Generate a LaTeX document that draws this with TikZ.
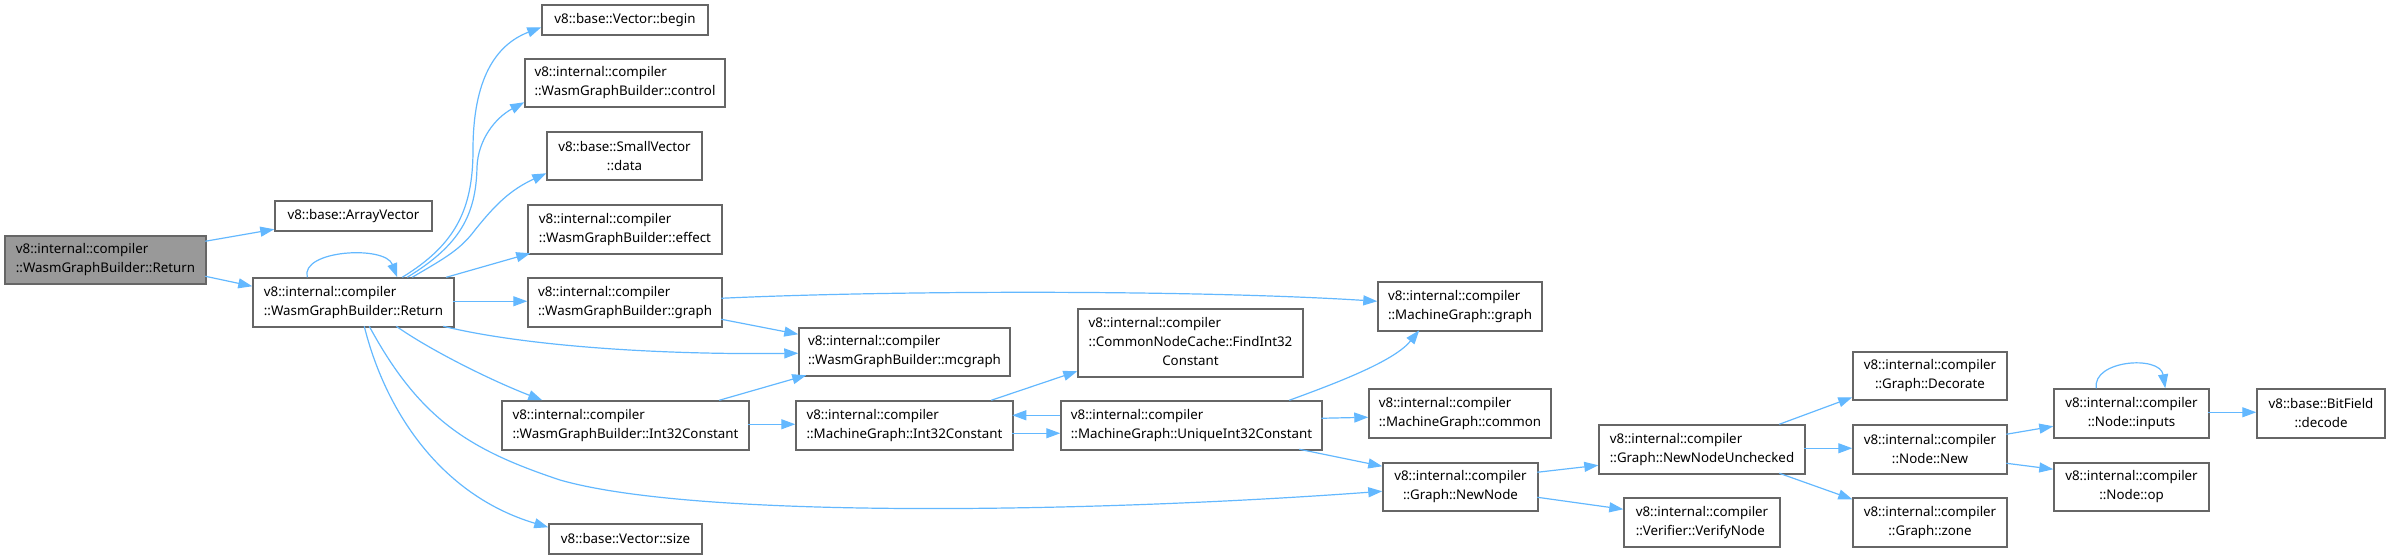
\documentclass[tikz,border=0pt]{standalone}
\usepackage{fontspec}
\setmainfont{Noto Sans}
\usetikzlibrary{arrows.meta}
\definecolor{edgecol}{HTML}{63B8FF}
\definecolor{boxline}{HTML}{666666}
\definecolor{rootfill}{HTML}{999999}
\begin{document}
\begin{tikzpicture}[x=0.75pt,y=-0.75pt,
  bx/.style={draw=boxline,line width=1.1pt,fill=white,inner sep=0pt,font=\fontsize{10}{14.25}\selectfont,text=black},
  wh/.style 2 args={minimum width=#1*0.75pt,minimum height=#2*0.75pt},
  rootbox/.style={bx,fill=rootfill},
  e/.style={draw=edgecol,line width=0.9pt,-{Triangle[length=10.5pt,width=7.5pt,fill=edgecol]}}]
\useasboundingbox (0,0) rectangle (2390,559);
% nodes
\node[rootbox,wh={201}{48},align=left] (root) at (105.5,260) {v8::internal::compiler\\::WasmGraphBuilder::Return};
\node[bx,wh={157}{30}] (arr) at (353.5,216) {v8::base::ArrayVector};
\node[bx,wh={201}{49},align=left] (ret) at (353.5,302.5) {v8::internal::compiler\\::WasmGraphBuilder::Return};
\node[bx,wh={166}{30}] (begin) at (625,20) {v8::base::Vector::begin};
\node[bx,wh={200}{48},align=left] (control) at (625,83) {v8::internal::compiler\\::WasmGraphBuilder::control};
\node[bx,wh={155}{48},align=center] (data) at (624.5,156) {v8::base::SmallVector\\::data};
\node[bx,wh={194}{49},align=left] (effect) at (625,229.5) {v8::internal::compiler\\::WasmGraphBuilder::effect};
\node[bx,wh={194}{49},align=left] (wgraph) at (625,302.5) {v8::internal::compiler\\::WasmGraphBuilder::graph};
\node[bx,wh={211}{48},align=left] (mcgraph) at (904.5,352) {v8::internal::compiler\\::WasmGraphBuilder::mcgraph};
\node[bx,wh={247}{49},align=left] (wint) at (625.5,425.5) {v8::internal::compiler\\::WasmGraphBuilder::Int32Constant};
\node[bx,wh={153}{30}] (size) at (625.5,539) {v8::base::Vector::size};
\node[bx,wh={217}{49},align=left] (mgint) at (904.5,425.5) {v8::internal::compiler\\::MachineGraph::Int32Constant};
\node[bx,wh={225}{68}] (find) at (1190.5,343) {\begin{tabular}{@{}l@{}}v8::internal::compiler\\::CommonNodeCache::FindInt32\\\multicolumn{1}{@{}c@{}}{Constant}\end{tabular}};
\node[bx,wh={261}{49},align=left] (unique) at (1191.5,425.5) {v8::internal::compiler\\::MachineGraph::UniqueInt32Constant};
\node[bx,wh={164}{49},align=left] (mgraph) at (1460,306.5) {v8::internal::compiler\\::MachineGraph::graph};
\node[bx,wh={182}{49},align=left] (common) at (1460,413.5) {v8::internal::compiler\\::MachineGraph::common};
\node[bx,wh={155}{48},align=center] (newnode) at (1460.5,487) {v8::internal::compiler\\::Graph::NewNode};
\node[bx,wh={206}{49},align=left] (nnu) at (1702,449.5) {v8::internal::compiler\\::Graph::NewNodeUnchecked};
\node[bx,wh={156}{49},align=left] (verify) at (1702,522.5) {v8::internal::compiler\\::Verifier::VerifyNode};
\node[bx,wh={154}{48},align=center] (decorate) at (1930,376) {v8::internal::compiler\\::Graph::Decorate};
\node[bx,wh={154}{49},align=center] (nodenew) at (1930,449.5) {v8::internal::compiler\\::Node::New};
\node[bx,wh={154}{49},align=center] (zone) at (1930,522.5) {v8::internal::compiler\\::Graph::zone};
\node[bx,wh={155}{49},align=center] (inputs) at (2131.5,413.5) {v8::internal::compiler\\::Node::inputs};
\node[bx,wh={155}{48},align=center] (op) at (2131.5,487) {v8::internal::compiler\\::Node::op};
\node[bx,wh={128}{49},align=center] (decode) at (2321,413.5) {v8::base::BitField\\::decode};
% edges
\draw[e] ([shift={(201,6)}]root.north west) -- ([shift={(0,29)}]arr.north west);
\draw[e] ([shift={(201,41)}]root.north west) -- ([shift={(0,9)}]ret.north west);
\draw[e] ([shift={(55,0)}]ret.north west) .. controls (300,250) and (385,245) .. ([shift={(145,0)}]ret.north west);
\draw[e] ([shift={(150,0)}]ret.north west) .. controls (455,245) and (473,210) .. (473,150) .. controls (473,80) and (495,45) .. ([shift={(0,23)}]begin.north west);
\draw[e] ([shift={(155,0)}]ret.north west) .. controls (460,245) and (476,215) .. (477,167) .. controls (478,140) and (495,118) .. ([shift={(0,44)}]control.north west);
\draw[e] ([shift={(160,0)}]ret.north west) .. controls (445,258) and (460,250) .. (475,230) .. controls (495,205) and (510,190) .. ([shift={(0,42)}]data.north west);
\draw[e] ([shift={(194,0)}]ret.north west) -- ([shift={(3,49)}]effect.north west);
\draw[e] ([shift={(201,24)}]ret.north west) -- ([shift={(0,24)}]wgraph.north west);
\draw[e] ([shift={(191,49)}]ret.north west) .. controls (520,345) and (650,355) .. ([shift={(0,26)}]mcgraph.north west);
\draw[e] ([shift={(144,49)}]ret.north west) .. controls (430,350) and (490,380) .. ([shift={(41,0)}]wint.north west);
\draw[e] ([shift={(112,49)}]ret.north west) .. controls (385,410) and (440,495) .. ([shift={(0,4)}]size.north west);
\draw[e] ([shift={(117,49)}]ret.north west) .. controls (420,420) and (470,450) .. (560,480) .. controls (700,520) and (1100,512) .. ([shift={(0,29)}]newnode.north west);
\draw[e] ([shift={(194,21)}]wgraph.north west) .. controls (900,290) and (1200,290) .. ([shift={(0,20)}]mgraph.north west);
\draw[e] ([shift={(194,42)}]wgraph.north west) -- ([shift={(0,7)}]mcgraph.north west);
\draw[e] ([shift={(218,0)}]wint.north west) -- ([shift={(8,48)}]mcgraph.north west);
\draw[e] ([shift={(247,24)}]wint.north west) -- ([shift={(0,24)}]mgint.north west);
\draw[e] ([shift={(196,0)}]mgint.north west) -- ([shift={(0,63)}]find.north west);
\draw[e] ([shift={(217,33)}]mgint.north west) -- ([shift={(0,33)}]unique.north west);
\draw[e] ([shift={(0,15)}]unique.north west) -- ([shift={(217,15)}]mgint.north west);
\draw[e] ([shift={(229,0)}]unique.north west) .. controls (1345,380) and (1395,360) .. ([shift={(42,49)}]mgraph.north west);
\draw[e] ([shift={(261,18)}]unique.north west) -- ([shift={(0,29)}]common.north west);
\draw[e] ([shift={(239,49)}]unique.north west) -- ([shift={(0,4)}]newnode.north west);
\draw[e] ([shift={(155,10)}]newnode.north west) -- ([shift={(0,41)}]nnu.north west);
\draw[e] ([shift={(155,35)}]newnode.north west) -- ([shift={(0,12)}]verify.north west);
\draw[e] ([shift={(181,0)}]nnu.north west) -- ([shift={(0,46)}]decorate.north west);
\draw[e] ([shift={(206,24)}]nnu.north west) -- ([shift={(0,24)}]nodenew.north west);
\draw[e] ([shift={(181,49)}]nnu.north west) -- ([shift={(0,2)}]zone.north west);
\draw[e] ([shift={(154,10)}]nodenew.north west) -- ([shift={(0,38)}]inputs.north west);
\draw[e] ([shift={(154,39)}]nodenew.north west) -- ([shift={(0,7)}]op.north west);
\draw[e] ([shift={(43,0)}]inputs.north west) .. controls (2092,360) and (2160,355) .. ([shift={(112,0)}]inputs.north west);
\draw[e] ([shift={(155,24)}]inputs.north west) -- ([shift={(0,24)}]decode.north west);
\end{tikzpicture}
\end{document}
